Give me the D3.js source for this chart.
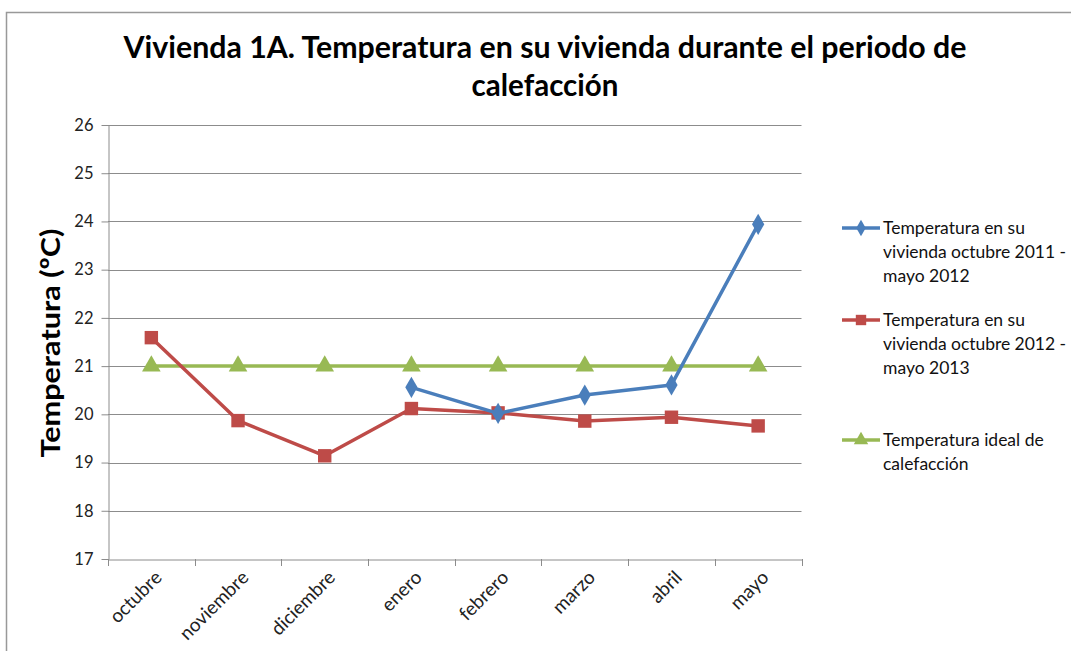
<!DOCTYPE html>
<html><head><meta charset="utf-8">
<script src="https://cdn.jsdelivr.net/npm/d3@7"></script>
<style>
html,body{margin:0;padding:0;background:#fff;overflow:hidden}
svg{display:block}
</style></head>
<body>
<svg id="c" width="1071" height="651"></svg>
<script>
const categories = ["octubre","noviembre","diciembre","enero","febrero","marzo","abril","mayo"];
const serie2011 = [null,null,null,20.56,20.02,20.40,20.61,23.94];
const serie2012 = [21.59,19.87,19.14,20.12,20.03,19.86,19.94,19.76];
const serieIdeal = [21,21,21,21,21,21,21,21];
const yTicks = [17,18,19,20,21,22,23,24,25,26];
const seriesNames = [
  ["Temperatura en su","vivienda octubre 2011 -","mayo 2012"],
  ["Temperatura en su","vivienda octubre 2012 -","mayo 2013"],
  ["Temperatura ideal de","calefacción"]
];
const titleLines = ["Vivienda 1A. Temperatura en su vivienda durante el periodo de","calefacción"];
const yTitle = "Temperatura (ºC)";

const svg = d3.select("#c");
const FONT = "Lato, 'Open Sans', sans-serif";
const gridCol = "#8c8c8c";

// frame
svg.append("path").attr("d","M6.5,651 L6.5,12.5 L1071,12.5").attr("fill","none").attr("stroke","#999").attr("stroke-width",1.5);

const L = 108, R = 801.5, T = 125, B = 559;
const x = d3.scaleBand().domain(categories).range([L,R]);
const y = d3.scaleLinear().domain([17,26]).range([B,T]);
const cx = d => x(d) + x.bandwidth()/2;

// title
const tl = svg.append("g").selectAll("text").data(titleLines).join("text")
  .attr("x",545).attr("y",(d,i)=>58+i*38)
  .attr("text-anchor","middle").attr("font-family",FONT).attr("font-weight","bold")
  .attr("font-size",29.5).attr("fill","#000").text(d=>d);
tl.filter((d,i)=>i===0).attr("textLength",843).attr("lengthAdjust","spacingAndGlyphs");

// gridlines
svg.append("g").selectAll("line").data(yTicks.slice(1)).join("line")
  .attr("x1",L).attr("x2",R).attr("y1",d=>Math.round(y(d))+0.5).attr("y2",d=>Math.round(y(d))+0.5)
  .attr("stroke",gridCol).attr("stroke-width",1);

// y axis
const yAxis = svg.append("g").attr("transform",`translate(${L+0.5},0)`)
  .call(d3.axisLeft(y).tickValues(yTicks).tickSize(7).tickSizeOuter(0).tickPadding(8));
yAxis.select(".domain").attr("stroke",gridCol);
yAxis.selectAll(".tick line").attr("stroke",gridCol);
yAxis.selectAll(".tick text").attr("font-family",FONT).attr("font-size",16.5).attr("fill","#222");

// x axis
const xAxis = svg.append("g").attr("transform",`translate(0,${B+0.5})`)
  .call(d3.axisBottom(x).tickSize(0).tickSizeOuter(0).tickFormat(""));
xAxis.select(".domain").attr("stroke",gridCol);
const bounds = categories.map(c=>x(c)).concat([R]);
svg.append("g").selectAll("line").data(bounds).join("line")
  .attr("x1",d=>Math.round(d)+0.5).attr("x2",d=>Math.round(d)+0.5).attr("y1",B).attr("y2",B+7)
  .attr("stroke",gridCol);
svg.append("g").selectAll("text").data(categories).join("text")
  .attr("transform",d=>`translate(${cx(d)+7},${B+15}) rotate(-45)`)
  .attr("text-anchor","end").attr("dy","0.35em")
  .attr("font-family",FONT).attr("font-size",19).attr("fill","#222").text(d=>d);

// y title
svg.append("text").attr("transform",`translate(60,343) rotate(-90)`)
  .attr("text-anchor","middle").attr("font-family",FONT).attr("font-weight","bold")
  .attr("font-size",27).attr("textLength",229).attr("lengthAdjust","spacingAndGlyphs")
  .attr("fill","#000").text(yTitle);

// series
const colors = ["#4A7EBB","#BE4B48","#98B954"];
const datasets = [serie2011, serie2012, serieIdeal];
const line = d3.line().defined(d=>d.v!=null).x(d=>cx(d.c)).y(d=>y(d.v));
const sym = [d3.symbolDiamond, d3.symbolSquare, d3.symbolTriangle];
const symSize = [130, 180, 150];

const order = [2,1,0];
order.forEach(si=>{
  const pts = categories.map((c,i)=>({c, v: datasets[si][i]}));
  const g = svg.append("g");
  g.append("path").datum(pts).attr("d",line).attr("fill","none")
    .attr("stroke",colors[si]).attr("stroke-width",3.5).attr("stroke-linejoin","round");
  g.selectAll("path.m").data(pts.filter(d=>d.v!=null)).join("path").attr("class","m")
    .attr("transform",d=>`translate(${cx(d.c)},${y(d.v)})`)
    .attr("d",d3.symbol().type(sym[si]).size(symSize[si])).attr("fill",colors[si]);
});

// legend
const legY = [228, 320, 440];
seriesNames.forEach((lines,si)=>{
  const g = svg.append("g");
  const ly = legY[si];
  g.append("line").attr("x1",842).attr("x2",880).attr("y1",ly).attr("y2",ly)
    .attr("stroke",colors[si]).attr("stroke-width",3.5);
  g.append("path").attr("transform",`translate(861,${ly})`)
    .attr("d",d3.symbol().type(sym[si]).size(symSize[si]*0.6)).attr("fill",colors[si]);
  const t = g.selectAll("text").data(lines).join("text")
    .attr("x",883).attr("y",(d,i)=>ly+i*24).attr("dy","0.35em")
    .attr("font-family",FONT).attr("font-size",17.5).attr("fill","#111").text(d=>d);
  t.filter(d=>d.endsWith(" -")).attr("textLength",183).attr("lengthAdjust","spacing");
});
</script>
</body></html>
